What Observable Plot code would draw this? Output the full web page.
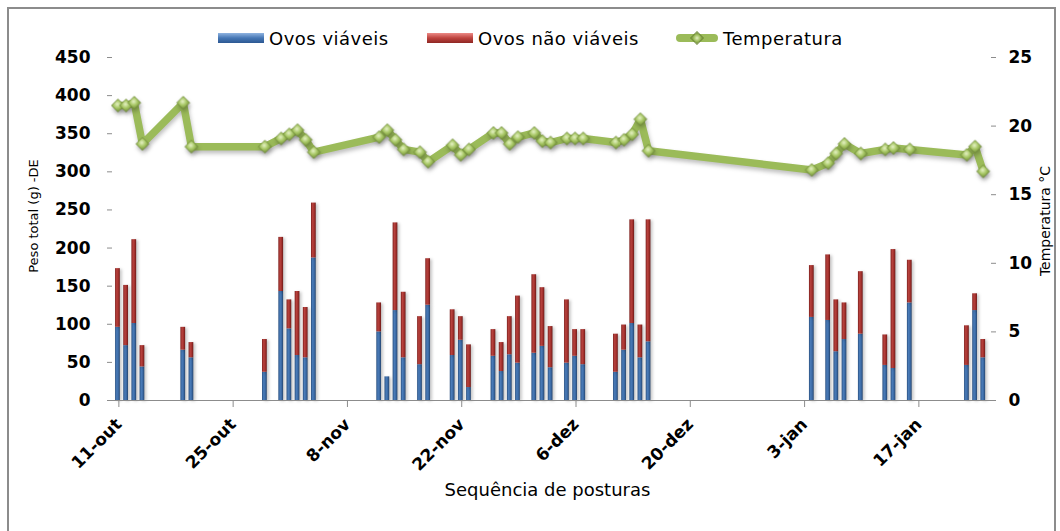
<!DOCTYPE html>
<html><head><meta charset="utf-8">
<script src="https://cdn.jsdelivr.net/npm/d3@7"></script>
<script src="https://cdn.jsdelivr.net/npm/@observablehq/plot@0.6"></script>
<style>
body{margin:0;background:#fff;font-family:"DejaVu Sans",sans-serif;}
#wrap{position:relative;width:1060px;height:531px;overflow:hidden;background:#fff;}
#frame{position:absolute;left:7px;top:7px;width:1049px;height:560px;border:2px solid #8c8c8c;box-sizing:border-box;pointer-events:none;}
#legend{position:relative;height:48px;}
.item{position:absolute;top:28px;height:20px;display:flex;align-items:center;font-size:18px;letter-spacing:0.5px;color:#000;white-space:nowrap;}
.sw{width:46px;height:10px;margin-right:5px;}
.blue{background:linear-gradient(#8fb3e0,#4677b5 50%,#2c5892);}
.red{background:linear-gradient(#ec8a86,#be443f 50%,#8f2724);}
.gl{position:relative;width:42px;height:8px;border-radius:4px;background:#9bbb59;margin-right:5px;}
.gl:after{content:"";position:absolute;left:16px;top:-1px;width:8px;height:8px;transform:rotate(45deg);background:radial-gradient(#e3f0c0,#9bbb59 60%,#6f8a38);border:1px solid #6f8a38;}
svg{display:block;}
</style></head>
<body>
<div id="wrap">
  <div id="legend">
    <div class="item" style="left:218px"><div class="sw blue"></div>Ovos viáveis</div>
    <div class="item" style="left:427px"><div class="sw red"></div>Ovos não viáveis</div>
    <div class="item" style="left:676px"><div class="gl"></div>Temperatura</div>
  </div>
  <div id="chart"></div>
  <div id="frame"></div>
</div>
<script>
const dates = ["2010-10-11","2010-10-12","2010-10-13","2010-10-14","2010-10-19","2010-10-20","2010-10-29","2010-10-31","2010-11-01","2010-11-02","2010-11-03","2010-11-04","2010-11-12","2010-11-13","2010-11-14","2010-11-15","2010-11-17","2010-11-18","2010-11-21","2010-11-22","2010-11-23","2010-11-26","2010-11-27","2010-11-28","2010-11-29","2010-12-01","2010-12-02","2010-12-03","2010-12-05","2010-12-06","2010-12-07","2010-12-11","2010-12-12","2010-12-13","2010-12-14","2010-12-15","2011-01-04","2011-01-06","2011-01-07","2011-01-08","2011-01-10","2011-01-13","2011-01-14","2011-01-16","2011-01-23","2011-01-24","2011-01-25"];
const ovosViaveis = [96,72,101,44,66,56,37,143,94,59,56,187,90,31,118,56,47,125,59,79,17,58,38,60,49,62,71,43,49,58,47,37,66,101,56,77,109,105,64,80,87,46,42,128,46,118,56];
const ovosNaoViaveis = [77,79,110,28,30,20,43,71,38,84,66,72,38,0,115,86,63,61,60,31,56,35,38,50,88,103,77,54,83,35,46,50,33,136,43,160,68,86,68,48,82,40,156,56,52,22,24];
const temperatura = [21.5,21.5,21.7,18.7,21.7,18.5,18.5,19.1,19.4,19.7,19.0,18.1,19.2,19.7,19.0,18.3,18.1,17.4,18.6,17.9,18.3,19.5,19.5,18.7,19.2,19.5,18.9,18.8,19.1,19.1,19.1,18.8,19.0,19.4,20.5,18.2,16.8,17.3,18.0,18.7,18.0,18.3,18.4,18.3,17.9,18.5,16.7];
const xTicks = ["2010-10-11","2010-10-25","2010-11-08","2010-11-22","2010-12-06","2010-12-20","2011-01-03","2011-01-17"];
const pesoTicks = [0,50,100,150,200,250,300,350,400,450];
const tempTicks = [0,5,10,15,20,25];
const meses = ["jan","fev","mar","abr","mai","jun","jul","ago","set","out","nov","dez"];

const K = 450 / 25; // temperature -> left scale
const parse = d3.utcParse("%Y-%m-%d");
const rows = dates.map((d, i) => ({
  date: parse(d), v: ovosViaveis[i], nv: ovosNaoViaveis[i], t: temperatura[i]
}));
const mid = d => d3.utcHour.offset(d.date, 12);
const fmt = d => `${d.getUTCDate()}-${meses[d.getUTCMonth()]}`;

const svg = Plot.plot({
  width: 1060, height: 483,
  marginLeft: 107, marginRight: 65, marginTop: 9, marginBottom: 131,
  style: {fontFamily: "DejaVu Sans", fontSize: "17px", color: "#000", background: "transparent"},
  x: {type: "utc", domain: [new Date(Date.UTC(2010, 9, 10, 5, 17)), new Date(Date.UTC(2011, 0, 27))]},
  y: {domain: [0, 450]},
  marks: [
    Plot.rectY(rows, {x1: d => d3.utcHour.offset(d.date, 5), x2: d => d3.utcHour.offset(d.date, 19), y: "v", fill: "url(#gBlue)"}),
    Plot.rectY(rows, {x1: d => d3.utcHour.offset(d.date, 5), x2: d => d3.utcHour.offset(d.date, 19), y1: "v", y2: d => d.v + d.nv, fill: "url(#gRed)"}),
    Plot.ruleY([0], {stroke: "#8c8c8c", strokeWidth: 1.2}),
    Plot.axisY(pesoTicks, {anchor: "left", tickSize: -5, tickPadding: 22, stroke: "#8c8c8c", fontWeight: "bold", fontSize: 17, label: null}),
    Plot.axisY(tempTicks.map(t => t * K), {anchor: "right", tickFormat: d => Math.round(d / K), tickSize: -5, tickPadding: 18, stroke: "#8c8c8c", fontWeight: "bold", fontSize: 17, label: null}),
    Plot.axisX(xTicks.map(parse), {tickFormat: fmt, tickRotate: -45, tickSize: 7, tickPadding: 14, dx: 5, stroke: "#8c8c8c", fontWeight: "bold", fontSize: 17, label: null}),
    Plot.line(rows, {x: mid, y: d => d.t * K, stroke: "#9bbb59", strokeWidth: 7.5, strokeLinejoin: "bevel"}),
    Plot.dot(rows, {x: mid, y: d => d.t * K, symbol: "diamond2", r: 5.8, fill: "url(#gGreen)", stroke: "#6f8a38", strokeWidth: 0.8}),
    Plot.text(["Peso total (g) -DE"], {frameAnchor: "left", textAnchor: "middle", dx: -74, dy: -13, rotate: -90, fontSize: 13}),
    Plot.text(["Temperatura °C"], {frameAnchor: "right", textAnchor: "middle", dx: 50, dy: -8, rotate: -90, fontSize: 14}),
    Plot.text(["Sequência de posturas"], {frameAnchor: "bottom", dx: -4, dy: 95, fontSize: 18})
  ]
});

const sel = d3.select(svg);
const defs = sel.insert("defs", ":first-child");
function lin(id, stops) {
  const g = defs.append("linearGradient").attr("id", id).attr("x1", 0).attr("x2", 1).attr("y1", 0).attr("y2", 0);
  stops.forEach(([o, c]) => g.append("stop").attr("offset", o).attr("stop-color", c));
}
lin("gBlue", [[0, "#2a5080"], [0.35, "#4a7cb9"], [0.7, "#3b69a3"], [1, "#22426b"]]);
lin("gRed", [[0, "#7d1f1c"], [0.35, "#b8423e"], [0.7, "#a1302c"], [1, "#6a1715"]]);
const rg = defs.append("radialGradient").attr("id", "gGreen").attr("cx", "0.45").attr("cy", "0.4").attr("r", "0.6");
[[0, "#e6f2c6"], [0.5, "#a6c663"], [1, "#6f8a38"]].forEach(([o, c]) => rg.append("stop").attr("offset", o).attr("stop-color", c));

sel.selectAll('g[aria-label="rect"]').style("filter", "drop-shadow(2px 1px 1.5px rgba(0,0,0,0.22))");
sel.selectAll('g[aria-label="line"], g[aria-label="dot"]').style("filter", "drop-shadow(1px 3px 2px rgba(0,0,0,0.25))");

document.getElementById("chart").appendChild(svg);
</script>
</body></html>
